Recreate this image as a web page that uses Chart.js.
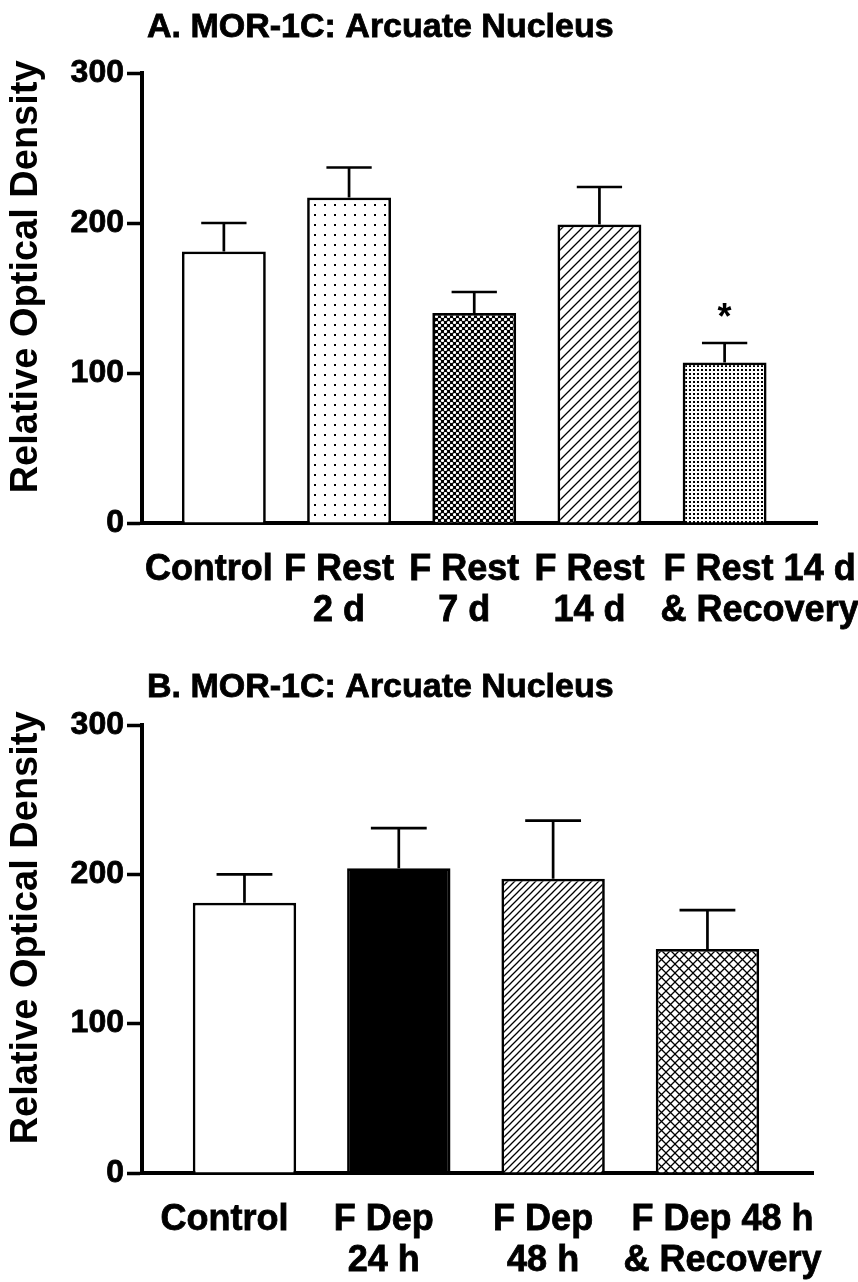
<!DOCTYPE html>
<html>
<head>
<meta charset="utf-8">
<script src="https://cdn.jsdelivr.net/npm/chart.js@4.4.0/dist/chart.umd.min.js"></script>
<style>
  html, body { margin: 0; padding: 0; background: #fff; }
  #chartA { position: absolute; left: 0; top: 0; }
  #chartB { position: absolute; left: 0; top: 640px; }
</style>
</head>
<body>
<canvas id="chartA" width="858" height="640"></canvas>
<canvas id="chartB" width="858" height="642"></canvas>
<script>
// Panel A: food restriction
const titleA = 'A. MOR-1C: Arcuate Nucleus';
const labelsA = [['Control'], ['F Rest', '2 d'], ['F Rest', '7 d'], ['F Rest', '14 d'], ['F Rest 14 d', '& Recovery']];
const valuesA = [181, 217, 140, 199, 107];
const errorsA = [19, 20, 14, 25, 13];
const marksA = ['', '', '', '', '*'];

// Panel B: food deprivation
const titleB = 'B. MOR-1C: Arcuate Nucleus';
const labelsB = [['Control'], ['F Dep', '24 h'], ['F Dep', '48 h'], ['F Dep 48 h', '& Recovery']];
const valuesB = [181, 204, 197, 150];
const errorsB = [19, 27, 39, 26];
const marksB = ['', '', '', ''];

const yTicks = [0, 100, 200, 300];
const yTitle = 'Relative Optical Density';

// label nudges (in spaces, negative = left) to follow the hand placed labels of the figure
const nudgeA = [-3, -2, -2, -2, 7];
const nudgeB = [-4, -3, -2, 3];

const FONT = '"Liberation Sans", Arial, sans-serif';

function nudge(lines, n) {
  const pad = ' '.repeat(Math.abs(n));
  return lines.map(t => n > 0 ? pad + t : t + pad);
}

// fill patterns for the bars
function makePattern(kind) {
  if (kind === 'white') return '#fff';
  if (kind === 'black') return '#000';
  const c = document.createElement('canvas');
  let s = 10;
  if (kind === 'checker') s = 6;
  if (kind === 'finedots') s = 4;
  if (kind === 'hatch7') s = 7;
  if (kind === 'cross') s = 9;
  c.width = s; c.height = s;
  const g = c.getContext('2d');
  g.fillStyle = '#fff';
  g.fillRect(0, 0, s, s);
  g.fillStyle = '#000';
  g.strokeStyle = '#000';
  if (kind === 'dots') {
    g.fillRect(4, 4, 2, 2);
  } else if (kind === 'finedots') {
    g.fillRect(1, 1, 2, 2);
  } else if (kind === 'checker') {
    g.fillRect(0, 0, s, s);
    g.fillStyle = '#fff';
    [[1.5, 1.5], [4.5, 4.5]].forEach(p => {
      g.beginPath(); g.arc(p[0], p[1], 1.6, 0, Math.PI * 2); g.fill();
    });
  } else if (kind === 'hatch10' || kind === 'hatch7') {
    g.lineWidth = 1.3;
    g.beginPath();
    g.moveTo(-1, s + 1); g.lineTo(s + 1, -1);
    g.moveTo(-1, 1); g.lineTo(1, -1);
    g.moveTo(s - 1, s + 1); g.lineTo(s + 1, s - 1);
    g.stroke();
  } else if (kind === 'cross') {
    g.lineWidth = 1.3;
    g.beginPath();
    g.moveTo(-1, s + 1); g.lineTo(s + 1, -1);
    g.moveTo(-1, -1); g.lineTo(s + 1, s + 1);
    g.stroke();
  }
  return g.createPattern(c, 'repeat');
}

const patternsA = ['white', 'dots', 'checker', 'hatch10', 'finedots'].map(makePattern);
const patternsB = ['white', 'black', 'hatch7', 'cross'].map(makePattern);

function errorPlugin(errors, marks) {
  return {
    id: 'errorBars',
    afterDatasetsDraw(chart) {
      const ctx = chart.ctx;
      const y = chart.scales.y;
      const ds = chart.data.datasets[0];
      ctx.save();
      ctx.strokeStyle = '#000';
      ctx.lineWidth = 2.7;
      chart.getDatasetMeta(0).data.forEach((bar, i) => {
        const top = y.getPixelForValue(ds.data[i].y + errors[i]);
        const half = bar.width * 0.27;
        ctx.beginPath();
        ctx.moveTo(bar.x, bar.y);
        ctx.lineTo(bar.x, top);
        ctx.moveTo(bar.x - half, top);
        ctx.lineTo(bar.x + half, top);
        ctx.stroke();
        if (marks[i]) {
          ctx.fillStyle = '#000';
          ctx.font = 'bold 36px ' + FONT;
          ctx.textAlign = 'center';
          ctx.textBaseline = 'alphabetic';
          ctx.fillText(marks[i], bar.x, top - 14);
        }
      });
      ctx.restore();
    }
  };
}

function titlePlugin(text, offset) {
  return {
    id: 'panelTitle',
    afterDraw(chart) {
      const ctx = chart.ctx;
      ctx.save();
      ctx.fillStyle = '#000';
      ctx.strokeStyle = '#000';
      ctx.lineWidth = 0.8;
      ctx.font = 'bold 34px ' + FONT;
      ctx.textAlign = 'left';
      ctx.textBaseline = 'alphabetic';
      const x = chart.chartArea.left + 5, y = chart.chartArea.top - offset;
      ctx.fillText(text, x, y);
      ctx.strokeText(text, x, y);
      ctx.restore();
    }
  };
}

function makeChart(id, o) {
  return new Chart(document.getElementById(id), {
    type: 'bar',
    data: {
      datasets: [{
        data: o.values.map((v, i) => ({ x: i + 1, y: v })),
        backgroundColor: o.patterns,
        borderColor: '#000',
        borderWidth: 2.7,
        categoryPercentage: 1,
        barPercentage: 0.67
      }]
    },
    options: {
      responsive: false,
      animation: false,
      devicePixelRatio: 1,
      layout: { padding: { top: o.top, right: o.right, left: 0, bottom: 0 } },
      plugins: { legend: { display: false }, tooltip: { enabled: false } },
      scales: {
        x: {
          type: 'linear',
          min: o.xmin,
          max: o.xmax,
          offset: false,
          grid: { display: false, drawTicks: false },
          border: { display: true, color: '#000', width: 4 },
          ticks: {
            autoSkip: false,
            maxRotation: 0,
            minRotation: 0,
            padding: 26,
            color: '#000',
            textStrokeColor: '#000',
            textStrokeWidth: 0.8,
            font: { family: FONT, size: 36, weight: 'bold', lineHeight: 1.15 },
            callback: v => nudge(o.labels[v - 1], o.nudge[v - 1])
          },
          afterBuildTicks: s => { s.ticks = o.labels.map((_, i) => ({ value: i + 1 })); },
          afterFit: s => { s.height = o.xh; s.paddingLeft = 0; s.paddingRight = 0; }
        },
        y: {
          min: 0,
          max: 300,
          grid: { drawOnChartArea: false, drawTicks: true, tickLength: 15, tickWidth: 3.5, tickColor: '#000', color: '#000' },
          border: { display: true, color: '#000', width: 4 },
          ticks: {
            color: '#000',
            padding: 3,
            textStrokeColor: '#000',
            textStrokeWidth: 0.8,
            font: { family: FONT, size: 32, weight: 'bold' }
          },
          afterBuildTicks: s => { s.ticks = yTicks.map(v => ({ value: v })); },
          title: {
            display: true,
            text: '    ' + yTitle,
            color: '#000',
            padding: { top: 4, bottom: 0 },
            font: { family: FONT, size: 38, weight: 'bold' }
          },
          afterFit: s => { s.width = 142; s.paddingTop = 0; s.paddingBottom = 0; }
        }
      }
    },
    plugins: [errorPlugin(o.errors, o.marks), titlePlugin(o.title, o.titleOffset)]
  });
}

makeChart('chartA', {
  labels: labelsA, nudge: nudgeA, values: valuesA, errors: errorsA, marks: marksA, patterns: patternsA,
  title: titleA, titleOffset: 36,
  top: 73, right: 41, xh: 117, xmin: 0.346, xmax: 5.738
});

makeChart('chartB', {
  labels: labelsB, nudge: nudgeB, values: valuesB, errors: errorsB, marks: marksB, patterns: patternsB,
  title: titleB, titleOffset: 28,
  top: 85, right: 45, xh: 109, xmin: 0.336, xmax: 4.684
});
</script>
</body>
</html>
